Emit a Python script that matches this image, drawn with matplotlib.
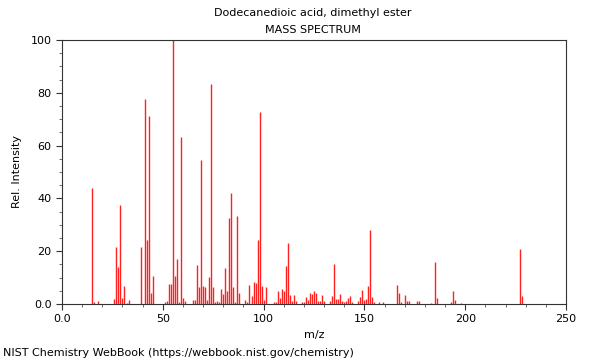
import matplotlib
matplotlib.use("Agg")
import matplotlib.pyplot as plt
from matplotlib.ticker import MultipleLocator, FuncFormatter

title = "Dodecanedioic acid, dimethyl ester"
subtitle = "MASS SPECTRUM"
credit = "NIST Chemistry WebBook (https://webbook.nist.gov/chemistry)"

# m/z values and relative intensities
mz = [15, 16, 18, 26, 27, 28, 29, 30, 31, 32, 33, 39, 41, 42, 43, 44, 45,
      51, 52, 53, 54, 55, 56, 57, 58, 59, 60, 61,
      65, 66, 67, 68, 69, 70, 71, 72, 73, 74, 75, 76, 77, 78, 79, 80, 81, 82,
      83, 84, 85, 86, 87, 88, 91, 92, 93, 94, 95, 96, 97, 98, 99, 100, 101,
      105, 106, 107, 108, 109, 110, 111, 112, 113, 114, 115, 116,
      119, 120, 121, 122, 123, 124, 125, 126, 127, 128, 129, 130,
      133, 134, 135, 136, 137, 138, 139, 140, 141, 142, 143, 144,
      147, 148, 149, 150, 151, 152, 153, 154, 155, 157, 159,
      166, 167, 168, 170, 171, 172, 176, 177, 183, 185, 186,
      193, 194, 195, 198, 227, 228]
intensity = [43.8, 0.9, 1.0, 1.8, 21.5, 14.0, 37.5, 2.1, 6.7, 0.5, 1.5, 21.6,
             77.7, 24.2, 71.2, 4.2, 10.5,
             0.9, 1.2, 7.6, 7.6, 100.0, 10.6, 17.0, 0.9, 63.1, 2.3, 1.3,
             1.5, 1.5, 14.8, 6.6, 54.5, 6.8, 6.3, 1.5, 10.1, 83.3, 6.3, 0.9,
             1.3, 0.8, 5.7, 3.8, 13.6, 5.0,
             32.5, 42.0, 6.4, 0.9, 33.3, 4.2, 1.5, 0.9, 7.2, 3.0, 8.5, 8.1,
             24.2, 72.6, 6.8, 1.5, 6.3,
             0.8, 0.8, 5.1, 2.4, 5.6, 4.8, 14.4, 23.0, 3.3, 1.2, 3.3, 1.0,
             0.8, 0.8, 2.5, 1.4, 4.0, 3.6, 4.9, 4.0, 1.2, 1.2, 3.3, 1.3,
             1.0, 2.9, 15.2, 1.9, 1.9, 3.6, 1.0, 0.8, 1.2, 2.2, 3.0, 0.7,
             1.0, 2.6, 5.3, 1.6, 1.8, 6.8, 28.2, 2.5, 0.6, 0.6, 0.8,
             7.1, 4.0, 0.6, 3.4, 1.1, 1.1, 1.0, 1.0, 0.4, 15.9, 2.2,
             0.8, 4.8, 1.4, 0.5, 20.7, 3.0]

fig = plt.figure(figsize=(6, 3.6), dpi=100)
ax = fig.add_axes([62 / 600, 1 - 304 / 360, 504 / 600, 264 / 360])

ax.vlines(mz, 0, intensity, colors="#ff2020", linewidth=1.0)

ax.set_xlim(0, 250)
ax.set_ylim(0, 100)
ax.xaxis.set_major_locator(MultipleLocator(50))
ax.xaxis.set_minor_locator(MultipleLocator(10))
ax.yaxis.set_major_locator(MultipleLocator(20))
ax.yaxis.set_minor_locator(MultipleLocator(5))
fmt = FuncFormatter(lambda v, p: "0.0" if v == 0 else "%d" % v)
ax.xaxis.set_major_formatter(fmt)
ax.yaxis.set_major_formatter(fmt)
ax.tick_params(which="major", length=4, width=0.8, color="#333333",
               labelsize=8, direction="out")
ax.tick_params(which="minor", length=2.5, width=0.6, color="#555555",
               direction="out")
for s in ax.spines.values():
    s.set_color("#333333")
    s.set_linewidth(0.8)

ax.set_xlabel("m/z", fontsize=8, labelpad=4)
ax.set_ylabel("Rel. Intensity", fontsize=8, labelpad=6)

fig.text(313 / 600, 1 - 13 / 360, title, ha="center", va="center", fontsize=8)
fig.text(313 / 600, 1 - 30 / 360, subtitle, ha="center", va="center", fontsize=8)
fig.text(3 / 600, 1 - 353 / 360, credit, ha="left", va="center", fontsize=8)

fig.savefig("out.png", dpi=100)
